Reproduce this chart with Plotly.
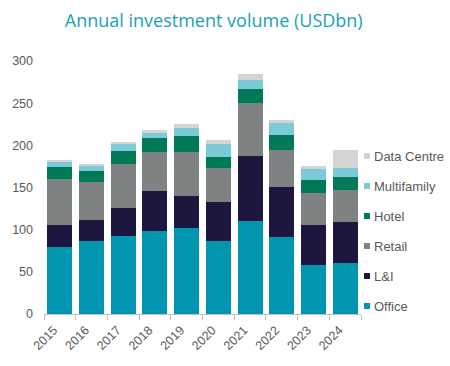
import plotly.graph_objects as go

years = ["2015", "2016", "2017", "2018", "2019", "2020", "2021", "2022", "2023", "2024"]
office = [80, 86, 93, 98, 102, 87, 110, 91, 58, 60]
li = [26, 26, 33, 48, 38, 46, 77, 60, 47, 49]
retail = [54, 44, 52, 46, 52, 40, 63, 43, 39, 38]
hotel = [14, 13, 15, 17, 19, 13, 17, 18, 15, 15]
multifamily = [7, 6, 9, 6, 10, 15, 11, 14, 14, 11]
data_centre = [1, 3, 1, 3, 4, 5, 6, 4, 2, 22]

series = [
    ("Office", office, "#0096B0"),
    ("L&I", li, "#1D163F"),
    ("Retail", retail, "#7F8283"),
    ("Hotel", hotel, "#007A56"),
    ("Multifamily", multifamily, "#7CC9D8"),
    ("Data Centre", data_centre, "#D4D4D4"),
]

W, H = 450, 366
ML, MR, MT, MB = 44, 89, 61, 52
PW, PH = W - ML - MR, H - MT - MB

fig = go.Figure()
for name, vals, col in series:
    fig.add_trace(go.Bar(x=years, y=vals, name=name, marker_color=col,
                         marker_line_width=0, showlegend=False))

# legend drawn as small squares + labels (Data Centre on top)
for i, (name, vals, col) in enumerate(reversed(series)):
    ypix = 156 + 30 * i
    yp = (H - MB - ypix) / PH
    fig.add_shape(type="rect", xref="paper", yref="paper",
                  x0=(364 - ML) / PW, x1=(370 - ML) / PW,
                  y0=yp - 3 / PH, y1=yp + 3 / PH,
                  fillcolor=col, line_width=0)
    fig.add_annotation(text=name, xref="paper", yref="paper",
                       x=(372 - ML) / PW, y=yp, xanchor="left", yanchor="middle",
                       showarrow=False,
                       font=dict(family="Liberation Sans", size=13, color="#595959"))

fig.update_layout(
    width=W, height=H,
    barmode="stack", bargap=0.21, showlegend=False,
    paper_bgcolor="white", plot_bgcolor="white",
    margin=dict(l=ML, r=MR, t=MT, b=MB),
    title=dict(text="Annual investment volume (USDbn)", x=0.475, xanchor="center",
               y=0.943, yanchor="middle",
               font=dict(family="Open Sans", size=18, color="#1A9FB8")),
    font=dict(family="Liberation Sans", size=12, color="#595959"),
)
fig.update_xaxes(type="category", range=[-0.5, 9.5], tickangle=-45,
                 showline=True, linecolor="#BFBFBF", linewidth=1,
                 ticks="outside", ticklen=5, tickcolor="#BFBFBF",
                 tickson="boundaries", showgrid=False, automargin=False,
                 ticklabelshift=-6, ticklabelstandoff=3,
                 tickfont=dict(size=12.5, color="#595959"))
fig.update_yaxes(range=[0, 300], dtick=50, showgrid=False, zeroline=False,
                 showline=False, ticks="", ticklabelstandoff=10, automargin=False,
                 tickfont=dict(size=12.5, color="#595959"))

fig.write_html("out.html", config={"displayModeBar": False},
               post_script="document.body.style.margin='0';")
